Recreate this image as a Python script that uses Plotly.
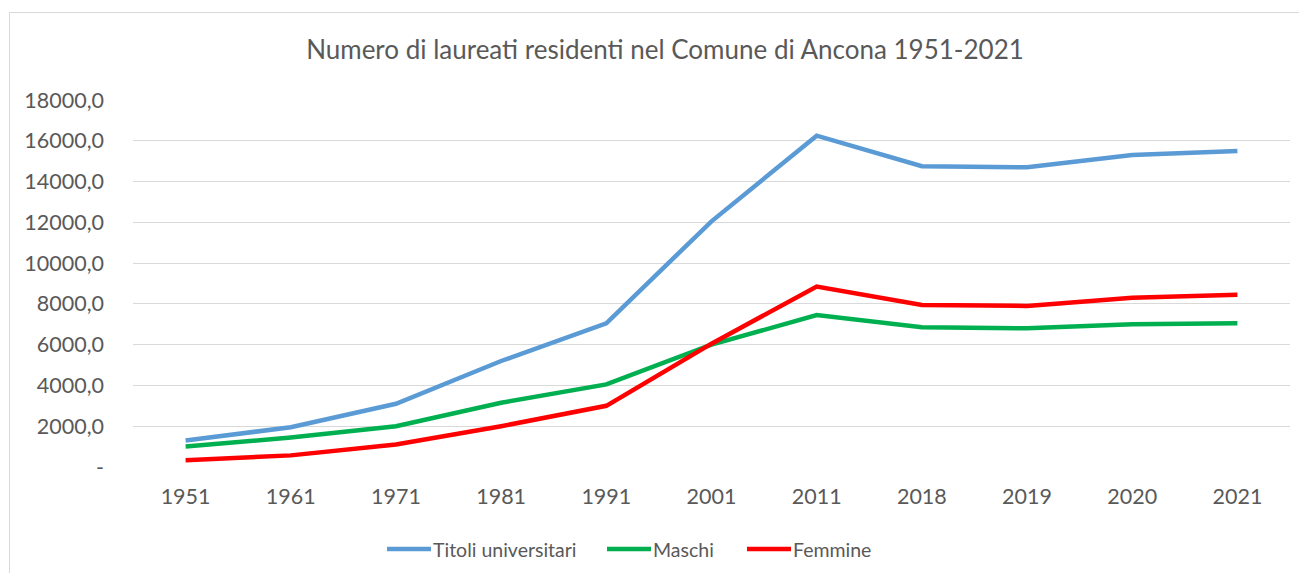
import plotly.graph_objects as go

years = ["1951", "1961", "1971", "1981", "1991", "2001", "2011", "2018", "2019", "2020", "2021"]
titoli = [1300, 1950, 3100, 5200, 7050, 12050, 16250, 14750, 14700, 15300, 15500]
maschi = [1000, 1450, 2000, 3150, 4050, 6000, 7450, 6850, 6800, 7000, 7050]
femmine = [330, 570, 1100, 2000, 3000, 6050, 8850, 7950, 7900, 8300, 8450]

y_tickvals = [0, 2000, 4000, 6000, 8000, 10000, 12000, 14000, 16000, 18000]
y_ticktext = ["-", "2000,0", "4000,0", "6000,0", "8000,0", "10000,0", "12000,0", "14000,0", "16000,0", "18000,0"]

series_names = ["Titoli universitari", "Maschi", "Femmine"]
series_values = [titoli, maschi, femmine]
series_colors = ["#5B9BD5", "#00B050", "#FF0000"]

OFF = 8  # page body margin
W, H = 1307 - 2 * OFF, 581 - 2 * OFF
# plot area in page pixel coordinates
L, R, T, B = 133, 1290, 100, 467

fig = go.Figure()
for name, vals, color in zip(series_names, series_values, series_colors):
    fig.add_trace(go.Scatter(
        x=years, y=vals, name=name, mode="lines",
        line=dict(color=color, width=4.5), showlegend=False,
    ))

def px_x(px):
    return (px - L) / (R - L)

def px_y(py):
    return (B - py) / (B - T)

# chart border
fig.add_shape(type="rect", xref="paper", yref="paper",
              x0=px_x(9.5), x1=px_x(1330), y0=px_y(12.5), y1=px_y(620),
              line=dict(color="#D9D9D9", width=1), fillcolor="rgba(0,0,0,0)", layer="below")

# legend (line sample + label), positioned in page pixels
legend_line_x = [385, 605, 745]
legend_y = 549
for name, color, lx in zip(series_names, series_colors, legend_line_x):
    fig.add_shape(type="line", xref="paper", yref="paper",
                  x0=px_x(lx + 2), x1=px_x(lx + 46), y0=px_y(legend_y), y1=px_y(legend_y),
                  line=dict(color=color, width=4.5))
    fig.add_annotation(xref="paper", yref="paper", x=px_x(lx + 46), y=px_y(legend_y),
                       xanchor="left", yanchor="middle", text=name, showarrow=False,
                       font=dict(size=19.5, color="#595959"))

fig.update_layout(
    width=W, height=H,
    margin=dict(l=L - OFF, r=W - (R - OFF), t=T - OFF, b=H - (B - OFF), pad=0),
    paper_bgcolor="white", plot_bgcolor="white",
    font=dict(family="Lato, Carlito, sans-serif", color="#595959", size=16),
    title=dict(text="Numero di laureati residenti nel Comune di Ancona 1951-2021",
               xref="container", x=(665 - OFF) / W, xanchor="center",
               yref="container", y=1 - (50 - OFF) / H, yanchor="middle",
               font=dict(size=26, color="#595959")),
    showlegend=False,
    xaxis=dict(type="category", range=[-0.5, 10.5], showgrid=False, showline=False,
               zeroline=False, ticks="", tickfont=dict(size=21.5), ticklabelstandoff=14),
    yaxis=dict(range=[0, 18000], tickvals=y_tickvals, ticktext=y_ticktext,
               showgrid=True, gridcolor="#D9D9D9", gridwidth=1.3, zeroline=False,
               showline=False, ticks="", tickfont=dict(size=21.5), ticklabelstandoff=28),
)

fig.write_html("out.html")
